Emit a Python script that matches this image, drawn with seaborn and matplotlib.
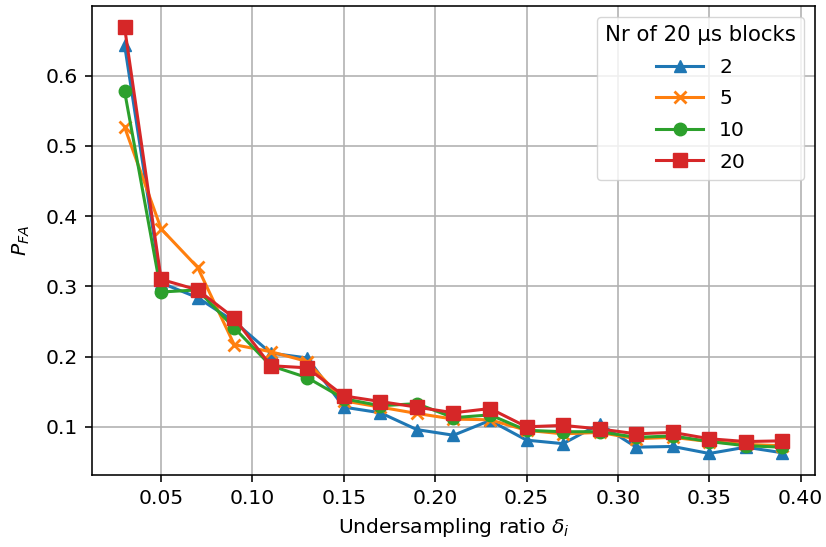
import matplotlib
matplotlib.use("Agg")
import matplotlib.pyplot as plt
import seaborn as sns
import numpy as np

x_ratio = [0.03, 0.05, 0.07, 0.09, 0.11, 0.13, 0.15, 0.17, 0.19, 0.21,
           0.23, 0.25, 0.27, 0.29, 0.31, 0.33, 0.35, 0.37, 0.39]
pfa_2 = [0.644, 0.305, 0.284, 0.250, 0.205, 0.198, 0.128, 0.120, 0.096, 0.088,
         0.109, 0.081, 0.076, 0.104, 0.071, 0.072, 0.062, 0.071, 0.063]
pfa_5 = [0.527, 0.382, 0.327, 0.217, 0.207, 0.193, 0.137, 0.128, 0.119, 0.111,
         0.110, 0.095, 0.090, 0.092, 0.083, 0.085, 0.079, 0.075, 0.073]
pfa_10 = [0.578, 0.292, 0.295, 0.241, 0.187, 0.170, 0.140, 0.130, 0.133, 0.113,
          0.117, 0.095, 0.093, 0.093, 0.085, 0.087, 0.079, 0.073, 0.071]
pfa_20 = [0.669, 0.310, 0.295, 0.255, 0.187, 0.184, 0.144, 0.136, 0.128, 0.120,
          0.126, 0.100, 0.102, 0.097, 0.090, 0.092, 0.083, 0.079, 0.080]
labels = ["2", "5", "10", "20"]
series = [pfa_2, pfa_5, pfa_10, pfa_20]
markers = ["^", "x", "o", "s"]
colors = sns.color_palette("tab10", 4)

FS = 14.6
plt.rcParams["font.family"] = ["DejaVu Sans"]
plt.rcParams["font.size"] = FS

fig = plt.figure(figsize=(8.26, 5.47), dpi=100)
ax = fig.add_axes([0.111, 0.132, 0.876, 0.857])

for lab, ys, mk, c in zip(labels, series, markers, colors):
    sns.lineplot(x=x_ratio, y=ys, ax=ax, color=c, marker=mk, label=lab,
                 linewidth=2.2, markersize=10 if mk == "s" else 9,
                 markeredgecolor=c, markerfacecolor=c,
                 markeredgewidth=2.0 if mk == "x" else 1.0)

ax.grid(True, color="#b0b0b0", linewidth=1.15)
ax.set_axisbelow(True)
ax.set_xlabel(r"Undersampling ratio $\delta_i$", fontsize=FS, labelpad=6)
ax.set_ylabel(r"$P_{FA}$", fontsize=FS, labelpad=10)
ax.set_xticks([0.05, 0.10, 0.15, 0.20, 0.25, 0.30, 0.35, 0.40])
ax.set_xticklabels(["0.05", "0.10", "0.15", "0.20", "0.25", "0.30", "0.35", "0.40"])
ax.set_yticks([0.1, 0.2, 0.3, 0.4, 0.5, 0.6])
ax.tick_params(labelsize=FS, width=1.15, length=5, pad=5)
for s in ax.spines.values():
    s.set_linewidth(1.15)
ax.margins(x=0.05, y=0.05)
ax.legend(title="Nr of 20 µs blocks", loc="upper right", fontsize=FS,
          title_fontsize=15.3, handlelength=2.3, labelspacing=0.62,
          borderaxespad=0.55)
fig.savefig("out.png", dpi=100)
